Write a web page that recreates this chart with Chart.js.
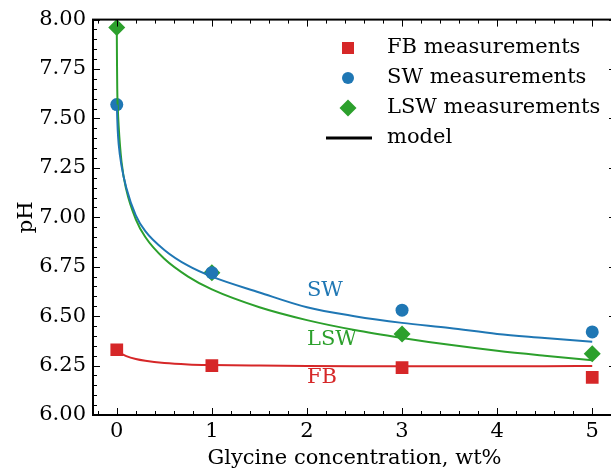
<!DOCTYPE html>
<html>
<head>
<meta charset="utf-8">
<script src="https://cdn.jsdelivr.net/npm/chart.js@4"></script>
<style>
  html, body { margin: 0; padding: 0; background: #fff; overflow: hidden; }
</style>
</head>
<body>
<canvas id="grafico-ph" width="625" height="471"></canvas>
<script>
// measured points
var glycine = [0, 1, 3, 5];
var fb_meas = [6.33, 6.25, 6.24, 6.19];
var sw_meas = [7.57, 6.72, 6.53, 6.42];
var lsw_meas = [7.96, 6.72, 6.41, 6.31];

// model curves
var model_x   = [0, 0.002, 0.005, 0.01, 0.02, 0.05, 0.1, 0.2, 0.3, 0.5, 0.75, 1, 1.5, 2, 2.5, 3, 3.5, 4, 4.5, 5];
var sw_model  = [7.57, 7.55, 7.50, 7.44, 7.37, 7.26, 7.15, 7.01, 6.93, 6.835, 6.755, 6.70, 6.62, 6.545, 6.50, 6.466, 6.44, 6.41, 6.39, 6.37];
var lsw_model = [7.96, 7.80, 7.65, 7.56, 7.46, 7.28, 7.14, 6.99, 6.90, 6.79, 6.70, 6.635, 6.545, 6.48, 6.43, 6.39, 6.355, 6.325, 6.30, 6.277];
var fb_model  = [6.33, 6.33, 6.329, 6.327, 6.322, 6.31, 6.298, 6.283, 6.274, 6.263, 6.256, 6.253, 6.25, 6.248, 6.247, 6.247, 6.247, 6.247, 6.247, 6.248];

var x_ticks = [0, 1, 2, 3, 4, 5];
var legend_labels = ['FB measurements', 'SW measurements', 'LSW measurements', 'model'];
var curve_labels = [
    {text: 'SW', x: 2, y: 6.63, color: '#1f77b4'},
    {text: 'LSW', x: 2, y: 6.38, color: '#2ca02c'},
    {text: 'FB', x: 2, y: 6.187, color: '#d62728'}
];

var RED = '#d62728', BLUE = '#1f77b4', GREEN = '#2ca02c';
var FONT = "'DejaVu Serif', serif";
var FS = 21;

function pts(xs, ys) {
    return xs.map(function(x, i){ return {x: x, y: ys[i]}; });
}

function curve(ys, color) {
    return {
        type: 'line',
        data: pts(model_x, ys),
        borderColor: color,
        borderWidth: 2,
        pointRadius: 0,
        fill: false,
        cubicInterpolationMode: 'monotone'
    };
}

function marks(ys, color, style, r) {
    return {
        type: 'scatter',
        data: pts(glycine, ys),
        backgroundColor: color,
        borderColor: color,
        borderWidth: 0,
        pointStyle: style,
        pointRadius: r,
        pointHoverRadius: r
    };
}

// inward major/minor ticks on all four sides, frame, labels and legend
var decor = {
    id: 'decor',
    afterDatasetsDraw: function(chart) {
        var ctx = chart.ctx, a = chart.chartArea;
        var xs = chart.scales.x, ys = chart.scales.y;
        ctx.save();
        ctx.strokeStyle = '#000';
        ctx.lineWidth = 1;
        var v, px, i, major;
        for (i = -1; i <= 26; i++) {
            v = i * 0.2;
            px = Math.round(xs.getPixelForValue(v)) + 0.5;
            if (px < a.left || px > a.right) continue;
            major = (i % 5 === 0);
            var L = major ? 7 : 4;
            ctx.beginPath();
            ctx.moveTo(px, a.bottom); ctx.lineTo(px, a.bottom - L);
            ctx.moveTo(px, a.top); ctx.lineTo(px, a.top + L);
            ctx.stroke();
        }
        for (i = 0; i <= 40; i++) {
            v = 6 + i * 0.05;
            px = Math.round(ys.getPixelForValue(v)) + 0.5;
            major = (i % 5 === 0);
            var L2 = major ? 7 : 4;
            ctx.beginPath();
            ctx.moveTo(a.left, px); ctx.lineTo(a.left + L2, px);
            ctx.moveTo(a.right, px); ctx.lineTo(a.right - L2, px);
            ctx.stroke();
        }
        ctx.lineWidth = 2;
        ctx.strokeRect(a.left, a.top, a.right - a.left, a.bottom - a.top);

        // curve labels
        ctx.font = FS + 'px ' + FONT;
        ctx.textAlign = 'left';
        ctx.textBaseline = 'middle';
        curve_labels.forEach(function(c){
            ctx.fillStyle = c.color;
            ctx.fillText(c.text, xs.getPixelForValue(c.x), ys.getPixelForValue(c.y));
        });

        // legend
        var lx = 348, tx = 387, ly = [48, 78, 108, 138];
        ctx.fillStyle = RED;
        ctx.fillRect(lx - 6, ly[0] - 6, 12, 12);
        ctx.fillStyle = BLUE;
        ctx.beginPath(); ctx.arc(lx, ly[1], 6, 0, Math.PI * 2); ctx.fill();
        ctx.fillStyle = GREEN;
        ctx.beginPath();
        ctx.moveTo(lx, ly[2] - 8.5); ctx.lineTo(lx + 8.5, ly[2]);
        ctx.lineTo(lx, ly[2] + 8.5); ctx.lineTo(lx - 8.5, ly[2]);
        ctx.closePath(); ctx.fill();
        ctx.strokeStyle = '#000';
        ctx.lineWidth = 3;
        ctx.beginPath(); ctx.moveTo(326, ly[3]); ctx.lineTo(372, ly[3]); ctx.stroke();
        ctx.fillStyle = '#000';
        legend_labels.forEach(function(t, k){ ctx.fillText(t, tx, ly[k]); });
        ctx.restore();
    }
};

var ctx = document.getElementById('grafico-ph').getContext('2d');
var config = {
    data: {
        datasets: [
            curve(fb_model, RED),
            curve(sw_model, BLUE),
            curve(lsw_model, GREEN),
            marks(fb_meas, RED, 'rect', 9),
            marks(sw_meas, BLUE, 'circle', 6.5),
            marks(lsw_meas, GREEN, 'rectRot', 8.5)
        ]
    },
    options: {
        responsive: false,
        animation: false,
        layout: { padding: { top: 19, right: 2, left: 0, bottom: 0 } },
        plugins: { legend: { display: false }, tooltip: { enabled: false } },
        scales: {
            x: {
                type: 'linear',
                min: -0.25,
                max: 5.25,
                grid: { display: false, drawTicks: false },
                border: { display: false },
                afterBuildTicks: function(scale){
                    scale.ticks = x_ticks.map(function(v){ return {value: v}; });
                },
                ticks: {
                    color: '#000', padding: 4.3,
                    font: { family: FONT, size: FS },
                    callback: function(v){ return String(v); }
                },
                title: {
                    display: true, text: 'Glycine concentration, wt%', color: '#000',
                    font: { family: FONT, size: FS }, padding: { top: -3, bottom: 0 }
                }
            },
            y: {
                type: 'linear',
                min: 6,
                max: 8,
                grid: { display: false, drawTicks: false },
                border: { display: false },
                afterFit: function(scale){ scale.width = 93; },
                ticks: {
                    color: '#000', padding: 7, stepSize: 0.25,
                    font: { family: FONT, size: FS },
                    callback: function(v){ return v.toFixed(2); }
                },
                title: {
                    display: true, text: 'pH', color: '#000',
                    font: { family: FONT, size: FS }, padding: { top: 14, bottom: 0 }
                }
            }
        }
    },
    plugins: [decor]
};
var grafico_ph = new Chart(ctx, config);
</script>
</body>
</html>
